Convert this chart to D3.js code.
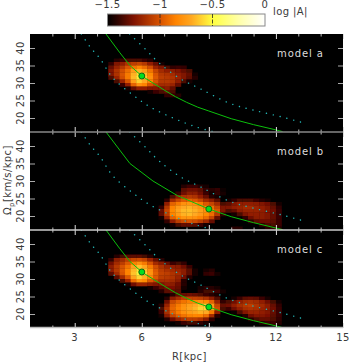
<!DOCTYPE html>
<html>
<head>
<meta charset="utf-8">
<script src="https://cdn.jsdelivr.net/npm/d3@7"></script>
<style>
    html, body { margin: 0; padding: 0; background: #fff; }
    svg { display: block; }
    text { font-family: "DejaVu Sans", sans-serif; fill: #3a3a3a; font-size: 10px; letter-spacing: 0.4px; }
</style>
</head>
<body>
<div id="chart"></div>
<script>
// log |A| grids: first row is the top one, each cell is 0.25 kpc x 1 km/s/kpc
const OFF = -1.5;
const _ = OFF;

const barStart = { r: 4.5, omega: 37 };   // upper left corner of the bar grids
const spiralStart = { r: 6.75, omega: 29 };

const gridA = [
    [_,-1.42,-1.38,-1.35,-1.35,-1.35,-1.38,-1.42,_,_,_,_,_,_,_,_],
    [-1.4,-1.25,-1.2,-1.12,-1.08,-1.05,-1.1,-1.2,-1.3,-1.45,_,_,_,_,_,_],
    [-1.3,-1.18,-1.1,-1.0,-0.9,-0.85,-0.92,-1.02,-1.18,-1.25,-1.35,-1.4,-1.38,-1.4,_,_],
    [-1.25,-1.12,-1.02,-0.92,-0.75,-0.68,-0.75,-0.9,-1.05,-1.15,-1.2,-1.22,-1.25,-1.3,-1.35,_],
    [-1.25,-1.12,-1.0,-0.88,-0.68,-0.58,-0.66,-0.82,-1.0,-1.1,-1.12,-1.15,-1.2,-1.25,-1.3,-1.45],
    [-1.35,-1.18,-1.02,-0.88,-0.66,-0.55,-0.62,-0.8,-0.98,-1.08,-1.1,-1.12,-1.18,-1.25,-1.32,-1.42],
    [_,-1.35,-1.18,-1.0,-0.75,-0.62,-0.7,-0.85,-1.0,-1.1,-1.1,-1.12,-1.2,-1.35,-1.45,_],
    [_,_,-1.38,-1.2,-0.95,-0.8,-0.85,-1.0,-1.08,-1.15,-1.15,-1.18,-1.3,_,_,_],
    [_,_,_,-1.45,-1.3,-1.2,-1.2,-1.25,-1.25,-1.25,-1.22,-1.3,_,_,_,_],
    [_,_,_,_,_,_,_,-1.45,-1.38,-1.35,-1.3,-1.35,_,_,_,_],
    [_,_,_,_,_,_,_,_,_,_,-1.4,-1.38,-1.42,_,_,_]
];

const gridB = [
    [_,_,_,_,-1.42,-1.38,-1.38,-1.42,-1.45,_,_,_,_,_,_,_,_,_,_,_,_,_],
    [_,_,_,_,-1.32,-1.28,-1.28,-1.32,-1.4,-1.42,-1.4,-1.48,_,_,_,_,_,_,_,_,_,_],
    [_,_,_,-1.4,-1.28,-1.22,-1.22,-1.28,-1.38,-1.45,-1.4,-1.45,_,_,_,_,_,_,_,_,_,_],
    [_,_,-1.35,-1.22,-1.12,-1.1,-1.12,-1.2,-1.3,-1.42,-1.45,_,_,_,_,_,_,_,_,_,_,_],
    [_,-1.4,-1.15,-1.05,-0.98,-0.95,-0.98,-1.05,-1.15,-1.22,-1.32,_,-1.45,-1.4,-1.35,-1.35,-1.35,-1.38,-1.42,-1.45,_,_],
    [_,-1.2,-0.95,-0.88,-0.8,-0.78,-0.8,-0.88,-0.98,-1.05,-1.15,-1.35,-1.32,-1.25,-1.2,-1.2,-1.2,-1.22,-1.25,-1.28,-1.35,-1.45],
    [-1.4,-1.1,-0.85,-0.76,-0.7,-0.68,-0.72,-0.78,-0.85,-0.92,-1.05,-1.25,-1.25,-1.2,-1.18,-1.15,-1.15,-1.18,-1.2,-1.25,-1.3,-1.4],
    [-1.3,-1.05,-0.82,-0.72,-0.66,-0.65,-0.68,-0.74,-0.8,-0.88,-1.0,-1.25,-1.35,-1.3,-1.22,-1.18,-1.18,-1.18,-1.2,-1.25,-1.28,-1.38],
    [-1.3,-1.08,-0.85,-0.75,-0.68,-0.66,-0.7,-0.76,-0.82,-0.92,-1.1,-1.4,_,-1.45,-1.35,-1.25,-1.2,-1.2,-1.22,-1.25,-1.3,-1.38],
    [-1.45,-1.18,-0.95,-0.85,-0.78,-0.78,-0.8,-0.85,-0.92,-1.05,-1.3,_,_,_,_,-1.4,-1.28,-1.22,-1.22,-1.25,-1.3,-1.38],
    [_,-1.4,-1.2,-1.08,-1.02,-1.0,-1.02,-1.08,-1.15,-1.3,_,_,_,_,_,_,-1.4,-1.32,-1.28,-1.28,-1.32,-1.38],
    [_,_,-1.45,-1.35,-1.3,-1.3,-1.32,-1.38,-1.45,_,_,_,_,_,_,_,_,_,-1.4,-1.35,-1.35,-1.38],
    [_,_,_,_,_,_,_,_,_,_,_,_,_,-1.42,-1.42,_,_,_,_,-1.42,-1.4,-1.42]
];

const gridCUpper = [
    [_,-1.42,-1.36,-1.32,-1.32,-1.32,-1.36,-1.42,_,_,_,_,_,_,_,_,_,_,_,_],
    [-1.4,-1.22,-1.16,-1.08,-1.04,-1.02,-1.06,-1.18,-1.3,-1.42,_,_,_,_,_,_,_,_,_,_],
    [-1.28,-1.15,-1.08,-0.98,-0.86,-0.8,-0.88,-1.0,-1.15,-1.22,-1.3,-1.38,-1.36,-1.4,_,_,_,_,_,_],
    [-1.22,-1.1,-1.0,-0.9,-0.72,-0.64,-0.72,-0.88,-1.02,-1.12,-1.18,-1.2,-1.22,-1.28,-1.38,_,_,_,_,_],
    [-1.22,-1.1,-0.98,-0.85,-0.66,-0.56,-0.64,-0.8,-0.98,-1.08,-1.12,-1.15,-1.18,-1.22,-1.32,-1.45,_,-1.45,-1.42,_],
    [-1.32,-1.15,-1.0,-0.85,-0.64,-0.53,-0.6,-0.78,-0.96,-1.06,-1.08,-1.12,-1.15,-1.22,-1.32,-1.45,_,-1.4,-1.38,-1.45],
    [_,-1.32,-1.15,-0.98,-0.72,-0.6,-0.68,-0.82,-0.98,-1.08,-1.1,-1.12,-1.18,-1.28,-1.42,_,_,_,_,_],
    [_,_,-1.35,-1.18,-0.92,-0.78,-0.82,-0.98,-1.06,-1.14,-1.14,-1.16,-1.22,-1.42,_,_,_,_,_,_],
    [_,_,_,-1.45,-1.28,-1.18,-1.18,-1.22,-1.25,-1.25,-1.2,-1.22,-1.28,-1.42,_,_,_,_,_,_],
    [_,_,_,_,_,_,_,-1.45,-1.38,-1.32,-1.26,-1.26,-1.3,-1.45,_,_,_,_,_,_],
    [_,_,_,_,_,_,_,_,_,-1.42,-1.32,-1.3,-1.32,_,_,_,_,_,_,_]
];

const gridCLower = [
    [_,_,_,_,_,_,_,_,_,_,_,_,_,_,_,_,_,_,_,_,_,_],
    [_,_,_,_,_,_,_,-1.46,-1.42,-1.42,-1.46,_,_,_,_,_,_,_,_,_,_,_],
    [_,_,_,_,_,_,_,-1.42,-1.36,-1.36,-1.38,-1.45,_,_,_,_,_,_,_,_,_,_],
    [_,_,-1.42,-1.32,-1.3,-1.28,-1.3,-1.34,-1.38,-1.42,-1.46,_,_,_,_,_,_,_,_,_,_,_],
    [_,-1.42,-1.22,-1.14,-1.08,-1.06,-1.06,-1.08,-1.12,-1.22,-1.34,_,_,-1.45,-1.38,-1.32,-1.3,-1.32,-1.38,-1.45,_,_],
    [_,-1.28,-1.04,-0.96,-0.9,-0.86,-0.82,-0.8,-0.82,-0.95,-1.18,-1.4,-1.35,-1.28,-1.2,-1.16,-1.14,-1.16,-1.2,-1.28,-1.36,-1.46],
    [-1.42,-1.18,-0.96,-0.88,-0.8,-0.74,-0.7,-0.64,-0.62,-0.76,-1.05,-1.3,-1.28,-1.2,-1.14,-1.1,-1.08,-1.12,-1.16,-1.22,-1.3,-1.4],
    [-1.35,-1.12,-0.94,-0.86,-0.78,-0.72,-0.67,-0.6,-0.58,-0.72,-1.02,-1.35,-1.38,-1.28,-1.2,-1.14,-1.12,-1.14,-1.18,-1.22,-1.28,-1.38],
    [-1.38,-1.14,-0.96,-0.88,-0.8,-0.75,-0.72,-0.68,-0.7,-0.88,-1.2,_,_,-1.48,-1.35,-1.24,-1.18,-1.18,-1.2,-1.24,-1.3,-1.38],
    [-1.46,-1.22,-1.05,-0.96,-0.9,-0.86,-0.84,-0.85,-0.92,-1.15,-1.42,_,_,_,_,-1.42,-1.28,-1.24,-1.24,-1.26,-1.32,-1.38],
    [_,-1.42,-1.28,-1.18,-1.12,-1.08,-1.08,-1.12,-1.22,-1.4,_,_,_,_,_,_,-1.42,-1.35,-1.3,-1.3,-1.34,-1.4],
    [_,_,_,-1.45,-1.38,-1.36,-1.36,-1.4,-1.46,_,_,_,_,_,_,_,_,_,-1.42,-1.38,-1.38,-1.42]
];

// corotation curve and inner / outer resonances
const coroR = [4.4, 5, 5.47, 6, 6.5, 7, 7.5, 8, 8.5, 9, 10, 11, 12, 12.3];
const coroOmega = [44, 38.8, 35, 32, 30, 28, 26.1, 24.5, 23.1, 22, 19.8, 18.1, 16.6, 16.1];
const coarseR = [4.4, 5.47, 6.5, 7.6, 9, 10, 11, 12.3];
const coarseOmega = [44, 35, 30, 25.8, 22, 19.8, 18.1, 16.1];
const innerR = [3.3, 3.7, 4.13, 4.7, 5.6, 6.36, 7.4, 8.4, 9.27];
const innerOmega = [44, 40.2, 37, 31.5, 26.6, 23.2, 20, 17.5, 16];
const outerR = [5.46, 6.2, 6.8, 7.7, 8.6, 9.93, 10.97, 12.2, 13.35];
const outerOmega = [44, 39.4, 35.6, 31.3, 28.4, 24.2, 22.3, 20.4, 18.4];

const panels = [
    { name: "model a", top: 34, grids: [[gridA, barStart]], markR: [6], markOmega: [32], curveR: coroR, curveOmega: coroOmega },
    { name: "model b", top: 132, grids: [[gridB, spiralStart]], markR: [9], markOmega: [22], curveR: coarseR, curveOmega: coarseOmega },
    { name: "model c", top: 230, grids: [[gridCUpper, barStart], [gridCLower, spiralStart]], markR: [6, 9], markOmega: [32, 22], curveR: coroR, curveOmega: coroOmega }
];

const xMajor = [3, 6, 9, 12, 15];
const xMinor = [2, 4, 5, 7, 8, 10, 11, 13, 14];
const yTicks = [20, 25, 30, 35, 40];
const colorTicks = [-1.5, -1, -0.5, 0];
const colorStops = [-1.5, -1.4, -1.25, -1, -0.85, -0.7, -0.5, -0.25, 0];
const colorValues = ["#000000", "#300400", "#801200", "#d85200", "#ff8400", "#ffa820", "#ffff40", "#ffffa8", "#ffffff"];

const width = 349, height = 362;
const panelW = 313, panelH = 98, panelX = 30;

const svg = d3.select("#chart").append("svg").attr("width", width).attr("height", height);
const color = d3.scaleLinear().domain(colorStops).range(colorValues).clamp(true);
const x = d3.scaleLinear().domain([1, 15]).range([panelX, panelX + panelW]);

const defs = svg.append("defs");
defs.append("filter").attr("id", "soft").attr("x", "-5%").attr("y", "-5%").attr("width", "110%").attr("height", "110%")
    .append("feGaussianBlur").attr("stdDeviation", 0.5);
const gradient = defs.append("linearGradient").attr("id", "bar-gradient");
colorStops.forEach((s, i) => {
    gradient.append("stop").attr("offset", `${(s + 1.5) / 1.5 * 100}%`).attr("stop-color", colorValues[i]);
});

function drawGrid(g, y, grid, start) {
    grid.forEach((row, i) => {
        row.forEach((v, j) => {
            if (v <= OFF) return;
            const r0 = start.r + j * 0.25, om0 = start.omega - i;
            g.append("rect")
                .attr("x", x(r0))
                .attr("y", y(om0))
                .attr("width", x(r0 + 0.25) - x(r0) + 0.3)
                .attr("height", y(om0 - 1) - y(om0) + 0.3)
                .attr("fill", color(v));
        });
    });
}

function drawTicks(g, axis, tickColor) {
    g.call(axis);
    g.select(".domain").remove();
    g.selectAll("text").remove();
    g.selectAll("line").attr("stroke", tickColor);
}

panels.forEach((p, idx) => {
    const y = d3.scaleLinear().domain([16, 44]).range([p.top + panelH, p.top]);
    const g = svg.append("g");
    const clipId = `clip-${idx}`;
    defs.append("clipPath").attr("id", clipId).append("rect")
        .attr("x", panelX).attr("y", p.top).attr("width", panelW).attr("height", panelH);

    g.append("rect").attr("x", panelX).attr("y", p.top).attr("width", panelW).attr("height", panelH).attr("fill", "#000");

    const clipped = g.append("g").attr("clip-path", `url(#${clipId})`);
    const heat = clipped.append("g").attr("filter", "url(#soft)");
    p.grids.forEach(([grid, start]) => drawGrid(heat, y, grid, start));

    const line = d3.line().x(d => x(d[0])).y(d => y(d[1])).curve(d3.curveCatmullRom);
    [[innerR, innerOmega], [outerR, outerOmega]].forEach(([rs, oms]) => {
        clipped.append("path")
            .attr("d", line(d3.zip(rs, oms)))
            .attr("fill", "none").attr("stroke", "#22b4b4").attr("stroke-width", 1.4)
            .attr("stroke-linecap", "round").attr("stroke-dasharray", "0.1 6.9");
    });
    clipped.append("path")
        .attr("d", d3.line().x(d => x(d[0])).y(d => y(d[1]))(d3.zip(p.curveR, p.curveOmega)))
        .attr("fill", "none").attr("stroke", "#0cc00c").attr("stroke-width", 1);

    p.markR.forEach((r, i) => {
        g.append("circle").attr("cx", x(r)).attr("cy", y(p.markOmega[i])).attr("r", 3)
            .attr("fill", "#00e020").attr("stroke", "#0a5a10").attr("stroke-width", 0.9);
    });

    // ticks, bottom and top edge and both sides
    const bottom = p.top + panelH, right = panelX + panelW;
    drawTicks(g.append("g").attr("transform", `translate(0,${bottom})`),
        d3.axisTop(x).tickValues(xMajor).tickSize(5), "#ddd");
    drawTicks(g.append("g").attr("transform", `translate(0,${bottom})`),
        d3.axisTop(x).tickValues(xMinor).tickSize(2.5), "#bbb");
    drawTicks(g.append("g").attr("transform", `translate(0,${p.top})`),
        d3.axisBottom(x).tickValues(xMajor).tickSize(5), "#ddd");
    drawTicks(g.append("g").attr("transform", `translate(0,${p.top})`),
        d3.axisBottom(x).tickValues(xMinor).tickSize(2.5), "#bbb");
    drawTicks(g.append("g").attr("transform", `translate(${panelX},0)`),
        d3.axisRight(y).tickValues(yTicks).tickSize(5), "#aaa");
    drawTicks(g.append("g").attr("transform", `translate(${right},0)`),
        d3.axisLeft(y).tickValues(yTicks).tickSize(5), "#aaa");

    yTicks.forEach(t => {
        svg.append("text")
            .attr("transform", `translate(24,${y(t)}) rotate(-90)`)
            .attr("text-anchor", "middle")
            .text(t);
    });

    g.append("text").attr("x", 277).attr("y", p.top + 23)
        .style("fill", "#ddd").style("letter-spacing", "0.9px").text(p.name);
});

// separators between the panels
[[132, "#888"], [230, "#ccc"], [327.5, "#bbb"]].forEach(([py, c]) => {
    svg.append("line").attr("x1", panelX).attr("x2", panelX + panelW).attr("y1", py).attr("y2", py)
        .attr("stroke", c).attr("stroke-width", 1.6);
});

// bottom axis labels
xMajor.forEach(t => {
    svg.append("text").attr("x", x(t)).attr("y", 341).attr("text-anchor", "middle").text(t);
});
svg.append("text").attr("x", 172).attr("y", 360).text("R[kpc]");

const yLabel = svg.append("text")
    .attr("transform", "translate(11,215) rotate(-90)");
yLabel.append("tspan").text("Ω");
yLabel.append("tspan").attr("dy", 2.5).style("font-size", "7px").text("p");
yLabel.append("tspan").attr("dy", -2.5).text("[km/s/kpc]");

// color bar
const cx = d3.scaleLinear().domain([-1.5, 0]).range([107.5, 265]);
svg.append("rect").attr("x", cx(-1.5)).attr("y", 14).attr("width", cx(0) - cx(-1.5)).attr("height", 12)
    .attr("fill", "url(#bar-gradient)").attr("stroke", "#888").attr("stroke-width", 1);
[-1, -0.5].forEach(t => {
    svg.append("line").attr("x1", cx(t)).attr("x2", cx(t)).attr("y1", 14).attr("y2", 26)
        .attr("stroke", "#222").attr("stroke-width", 0.8).attr("stroke-dasharray", "4 1.5");
});
colorTicks.forEach(t => {
    svg.append("text").attr("x", cx(t)).attr("y", 8).attr("text-anchor", "middle")
        .text(t < 0 ? `−${Math.abs(t)}` : t);
});
svg.append("text").attr("x", 273).attr("y", 15).text("log |A|");
</script>
</body>
</html>
